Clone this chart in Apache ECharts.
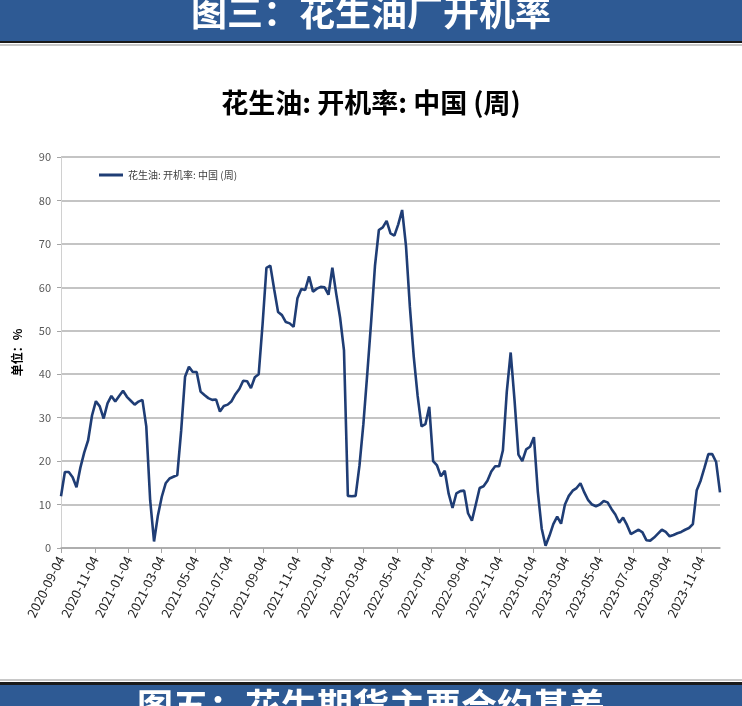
<!DOCTYPE html>
<html>
<head>
<meta charset="utf-8">
<script src="https://cdn.jsdelivr.net/npm/echarts@6/dist/echarts.min.js"></script>
<style>
  html, body { margin: 0; padding: 0; background: #ffffff; }
  #chart { width: 742px; height: 706px; }
</style>
</head>
<body>
<div id="chart"></div>
<script>
// ---- Data ----
const seriesName = '花生油: 开机率: 中国 (周)';
const firstWeek = '2020-09-04';   // first weekly observation (Friday)
const lastWeek = '2023-12-08';    // last weekly observation
// weekly operating rate, %, one value per week starting at firstWeek
const operatingRate = [
  11.9, 17.5, 17.5, 16.3, 14.0, 18.5, 22.0, 24.8, 30.5, 33.8,
  32.6, 29.8, 33.3, 35.0, 33.7, 35.0, 36.2, 34.8, 33.9, 33.0,
  33.7, 34.1, 28.0, 11.0, 1.5, 7.5, 11.8, 14.9, 16.0, 16.4,
  16.8, 27.0, 39.4, 41.7, 40.5, 40.5, 36.0, 35.2, 34.5, 34.1,
  34.2, 31.4, 32.7, 33.0, 33.8, 35.4, 36.6, 38.5, 38.4, 36.8,
  39.3, 40.0, 51.5, 64.5, 65.0, 59.5, 54.3, 53.6, 52.0, 51.7,
  50.9, 57.5, 59.6, 59.4, 62.5, 59.0, 59.7, 60.1, 60.0, 58.3,
  64.5, 58.5, 53.0, 45.5, 12.0, 11.9, 12.0, 19.0, 28.5, 40.0,
  52.0, 65.0, 73.2, 73.8, 75.3, 72.4, 71.9, 74.5, 77.8, 69.5,
  55.5, 44.0, 35.0, 28.0, 28.5, 32.5, 20.0, 19.0, 16.5, 17.8,
  12.5, 9.2, 12.6, 13.1, 13.2, 8.0, 6.3, 10.0, 13.8, 14.2,
  15.5, 17.6, 18.8, 18.8, 22.5, 36.0, 45.0, 34.0, 21.5, 20.0,
  22.7, 23.3, 25.5, 13.0, 4.5, 0.5, 2.8, 5.5, 7.2, 5.6,
  10.0, 12.0, 13.2, 13.8, 14.9, 12.8, 11.0, 10.0, 9.6, 10.0,
  10.8, 10.5, 9.0, 7.7, 5.8, 7.0, 5.3, 3.2, 3.7, 4.2,
  3.6, 1.8, 1.7, 2.4, 3.3, 4.2, 3.7, 2.7, 3.0, 3.4,
  3.7, 4.2, 4.6, 5.5, 13.3, 15.5, 18.5, 21.6, 21.6, 19.8,
  12.8
];
const xTickLabels = [
  '2020-09-04', '2020-11-04', '2021-01-04', '2021-03-04', '2021-05-04',
  '2021-07-04', '2021-09-04', '2021-11-04', '2022-01-04', '2022-03-04',
  '2022-05-04', '2022-07-04', '2022-09-04', '2022-11-04', '2023-01-04',
  '2023-03-04', '2023-05-04', '2023-07-04', '2023-09-04', '2023-11-04'
];
const yTicks = [0, 10, 20, 30, 40, 50, 60, 70, 80, 90];
const chartTitle = '花生油: 开机率: 中国 (周)';
const yAxisName = '单位：%';
const topBanner = '图三：花生油厂开机率';
const bottomBanner = '图五：花生期货主要合约基差';

// ---- helpers: x positions are calendar days since firstWeek ----
const DAY = 86400000;
function dayIndex(s) {
  const p = s.split('-').map(Number);
  const f = firstWeek.split('-').map(Number);
  return Math.round((Date.UTC(p[0], p[1] - 1, p[2]) - Date.UTC(f[0], f[1] - 1, f[2])) / DAY);
}
function dayLabel(idx) {
  const f = firstWeek.split('-').map(Number);
  const d = new Date(Date.UTC(f[0], f[1] - 1, f[2]) + idx * DAY);
  return d.getUTCFullYear() + '-' + String(d.getUTCMonth() + 1).padStart(2, '0') + '-' +
    String(d.getUTCDate()).padStart(2, '0');
}
const seriesData = operatingRate.map((v, k) => [7 * k, v]);
const tickValues = xTickLabels.map(dayIndex);

const chart = echarts.init(document.getElementById('chart'), null, { renderer: 'canvas' });
const FONT = '"Noto Sans CJK SC", "Noto Sans", sans-serif';

const option = {
  backgroundColor: '#ffffff',
  animation: false,
  textStyle: { fontFamily: FONT },
  title: {
    text: chartTitle,
    left: 'center',
    top: 84,
    textStyle: { fontSize: 27, fontWeight: 'bold', color: '#000000', fontFamily: FONT }
  },
  legend: {
    left: 94,
    top: 165,
    icon: 'rect',
    itemWidth: 24,
    itemHeight: 3,
    itemGap: 4,
    textStyle: { fontSize: 10, color: '#404040', fontFamily: FONT },
    data: [seriesName]
  },
  grid: { left: 61, right: 22, top: 157, bottom: 158, containLabel: false },
  xAxis: {
    type: 'value',
    min: 0,
    max: dayIndex(lastWeek),
    axisLine: { show: true, onZero: false, lineStyle: { color: '#a6a6a6', width: 1.5 } },
    axisTick: {
      show: true, length: 5, inside: false,
      customValues: tickValues,
      lineStyle: { color: '#a6a6a6', width: 1 }
    },
    axisLabel: {
      customValues: tickValues,
      formatter: function (v) { return dayLabel(v); },
      rotate: 63,
      margin: 9,
      fontSize: 13,
      color: '#262626',
      fontFamily: FONT,
      showMinLabel: true,
      showMaxLabel: true
    },
    splitLine: { show: false }
  },
  yAxis: {
    type: 'value',
    min: yTicks[0],
    max: yTicks[yTicks.length - 1],
    interval: 10,
    name: yAxisName,
    nameLocation: 'middle',
    nameRotate: 90,
    nameGap: 38,
    nameTextStyle: { fontSize: 12, fontWeight: 'bold', color: '#000000', fontFamily: FONT },
    axisLine: { show: true, lineStyle: { color: '#d0d0d0', width: 1 } },
    axisTick: { show: true, length: 4, lineStyle: { color: '#a6a6a6' } },
    axisLabel: { fontSize: 11, color: '#595959', margin: 10, fontFamily: FONT },
    splitLine: { show: true, lineStyle: { color: '#b0b0b0', width: 1.7 } }
  },
  series: [{
    name: seriesName,
    type: 'line',
    data: seriesData,
    showSymbol: false,
    symbol: 'none',
    smooth: false,
    lineStyle: { color: '#1F3D75', width: 2.6 },
    itemStyle: { color: '#1F3D75' }
  }],
  graphic: [
    { type: 'rect', left: 0, top: 0, shape: { width: 742, height: 41 }, style: { fill: '#2E5A94' }, z: 10 },
    { type: 'rect', left: 0, top: 41, shape: { width: 742, height: 2 }, style: { fill: '#1a1a1a' }, z: 10 },
    { type: 'rect', left: 0, top: 44, shape: { width: 742, height: 2 }, style: { fill: '#c8c8c8' }, z: 10 },
    { type: 'text', left: 'center', top: -6, z: 11,
      style: { text: topBanner, fill: '#ffffff', font: 'bold 36px "Noto Sans CJK SC", sans-serif' } },
    { type: 'rect', left: 0, top: 679, shape: { width: 742, height: 2 }, style: { fill: '#c8c8c8' }, z: 10 },
    { type: 'rect', left: 0, top: 682, shape: { width: 742, height: 3 }, style: { fill: '#1a1a1a' }, z: 10 },
    { type: 'rect', left: 0, top: 685, shape: { width: 742, height: 21 }, style: { fill: '#2E5A94' }, z: 10 },
    { type: 'text', left: 'center', top: 688, z: 11,
      style: { text: bottomBanner, fill: '#ffffff', font: 'bold 36px "Noto Sans CJK SC", sans-serif' } }
  ]
};
chart.setOption(option);
</script>
</body>
</html>
